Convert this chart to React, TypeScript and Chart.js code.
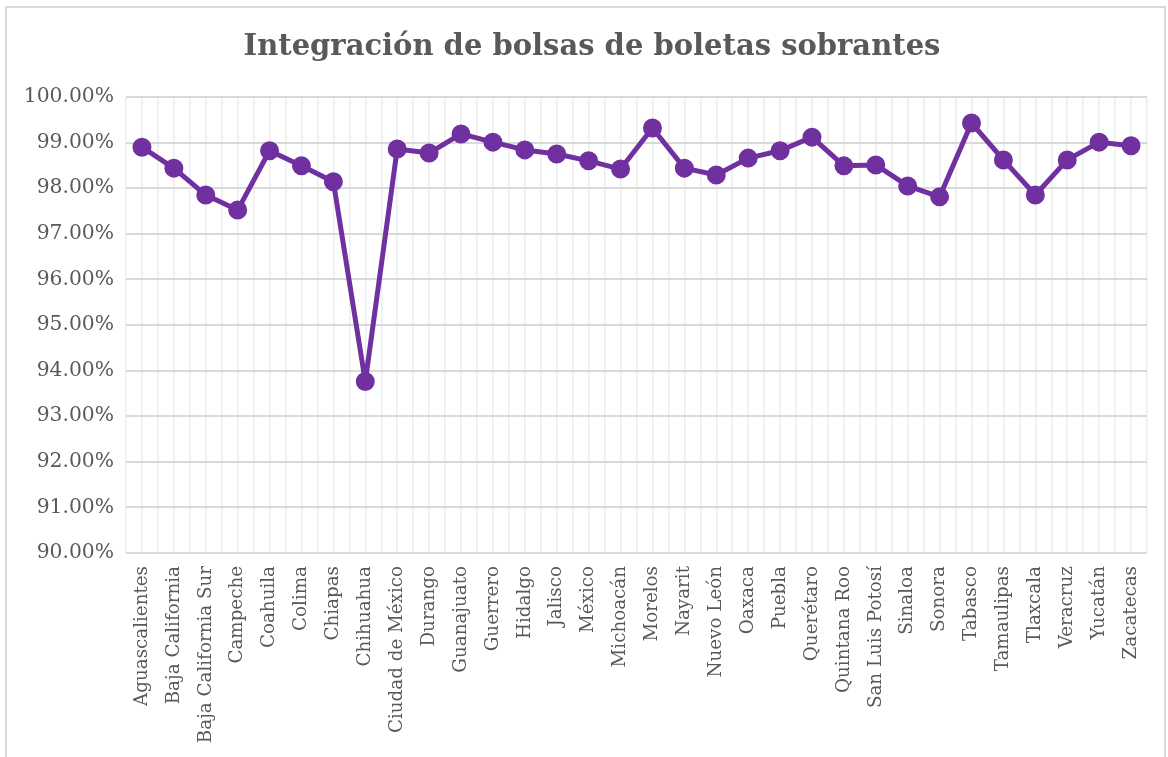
import React, { useEffect, useRef } from "react";
import { Chart, registerables } from "chart.js";

Chart.register(...registerables);

const TITLE = "Integración de bolsas de boletas sobrantes";

const estados: string[] = [
  "Aguascalientes", "Baja California", "Baja California Sur", "Campeche", "Coahuila",
  "Colima", "Chiapas", "Chihuahua", "Ciudad de México", "Durango", "Guanajuato",
  "Guerrero", "Hidalgo", "Jalisco", "México", "Michoacán", "Morelos", "Nayarit",
  "Nuevo León", "Oaxaca", "Puebla", "Querétaro", "Quintana Roo", "San Luis Potosí",
  "Sinaloa", "Sonora", "Tabasco", "Tamaulipas", "Tlaxcala", "Veracruz", "Yucatán",
  "Zacatecas",
];

const integracion: number[] = [
  98.90, 98.44, 97.85, 97.52, 98.82, 98.49, 98.14, 93.76, 98.86, 98.77, 99.19,
  99.01, 98.84, 98.75, 98.60, 98.42, 99.32, 98.44, 98.29, 98.66, 98.82, 99.12,
  98.49, 98.51, 98.05, 97.81, 99.43, 98.62, 97.85, 98.62, 99.01, 98.93,
];

const Y_MIN = 90;
const Y_MAX = 100;
const Y_STEP = 1;

const FONT = "'DejaVu Serif', 'Liberation Serif', serif";
const TEXT = "#595959";
const PURPLE = "#7030A0";

export default function App() {
  const ref = useRef<HTMLCanvasElement | null>(null);

  useEffect(() => {
    document.body.style.margin = "0";
    const canvas = ref.current;
    if (!canvas) return;

    const framePlugin = {
      id: "frame",
      beforeDraw(chart: any) {
        const c = chart.ctx;
        c.save();
        c.fillStyle = "#ffffff";
        c.fillRect(0, 0, chart.width, chart.height);
        c.strokeStyle = "#D9D9D9";
        c.lineWidth = 2;
        c.beginPath();
        c.moveTo(6, chart.height + 5);
        c.lineTo(6, 7);
        c.lineTo(1165, 7);
        c.lineTo(1165, chart.height + 5);
        c.stroke();
        c.fillStyle = TEXT;
        c.font = `bold 29px ${FONT}`;
        c.textAlign = "center";
        c.textBaseline = "middle";
        c.fillText(TITLE, 592, 47);
        c.restore();
      },
    };

    const chart = new Chart(canvas, {
      type: "line",
      data: {
        labels: estados,
        datasets: [
          {
            label: "Integración",
            data: integracion,
            borderColor: PURPLE,
            backgroundColor: PURPLE,
            borderWidth: 5,
            borderJoinStyle: "round",
            borderCapStyle: "round",
            pointRadius: 7,
            pointHoverRadius: 7,
            pointBackgroundColor: PURPLE,
            pointBorderColor: PURPLE,
            tension: 0,
            xAxisID: "x",
          },
        ],
      },
      options: {
        responsive: false,
        animation: false,
        layout: { padding: { top: 97, right: 21, bottom: 0, left: 0 } },
        plugins: {
          legend: { display: false },
          title: { display: false },
          tooltip: { enabled: false },
        },
        scales: {
          x: {
            type: "category",
            offset: true,
            grid: { offset: true, color: "#EDEDED", lineWidth: 1.5, drawTicks: false },
            border: { display: false },
            ticks: {
              color: TEXT,
              font: { family: FONT, size: 18.3 },
              minRotation: 90,
              maxRotation: 90,
              autoSkip: false,
              padding: 13,
            },
            afterFit(scale: any) {
              scale.height = 204;
            },
          },
          x2: {
            type: "category",
            labels: estados,
            offset: true,
            position: "bottom",
            display: true,
            grid: { offset: false, color: "#EDEDED", lineWidth: 1.5, drawTicks: false },
            border: { display: false },
            ticks: { display: false },
            afterFit(scale: any) {
              scale.height = 0;
            },
          },
          y: {
            min: Y_MIN,
            max: Y_MAX,
            grid: { color: "#D9D9D9", lineWidth: 2, drawTicks: false },
            border: { display: false },
            ticks: {
              stepSize: Y_STEP,
              color: TEXT,
              font: { family: FONT, size: 20.3 },
              padding: 12,
              callback: (v: any) => Number(v).toFixed(2) + "%",
            },
            afterFit(scale: any) {
              scale.width = 126;
            },
          },
        },
      },
      plugins: [framePlugin],
    });

    return () => chart.destroy();
  }, []);

  return (
    <div style={{ position: "relative", width: 1168, height: 757 }}>
      <canvas ref={ref} width={1168} height={757} style={{ display: "block" }} />
    </div>
  );
}
